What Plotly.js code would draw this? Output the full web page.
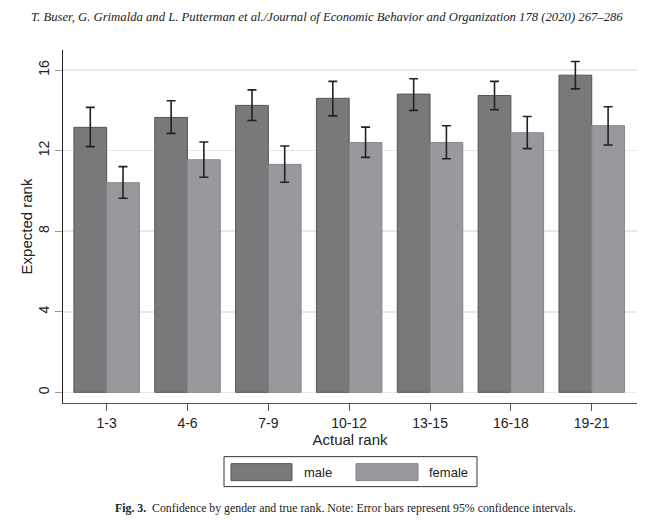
<!DOCTYPE html>
<html>
<head>
<meta charset="utf-8">
<script src="https://cdn.plot.ly/plotly-3.0.1.min.js"></script>
<style>
html,body{margin:0;padding:0;background:#fff;}
#chart{width:658px;height:531px;}
</style>
</head>
<body>
<div id="chart"></div>
<script>
// ---- data ----
const categories = ["1-3", "4-6", "7-9", "10-12", "13-15", "16-18", "19-21"];
const maleMean  = [13.16, 13.65, 14.25, 14.60, 14.81, 14.74, 15.75];
const maleHigh  = [14.15, 14.48, 15.02, 15.44, 15.57, 15.44, 16.43];
const maleLow   = [12.20, 12.86, 13.50, 13.73, 14.00, 14.03, 15.07];
const femaleMean = [10.41, 11.55, 11.32, 12.40, 12.41, 12.89, 13.24];
const femaleHigh = [11.21, 12.43, 12.23, 13.17, 13.24, 13.70, 14.18];
const femaleLow  = [9.64, 10.68, 10.43, 11.67, 11.60, 12.10, 12.28];
const yTicks = [0, 4, 8, 12, 16];
const seriesNames = ["male", "female"];

const maleColor = "#79797b", maleLine = "#555557";
const femaleColor = "#98999d", femaleLine = "#858689";

function errs(mean, hi, lo) {
  return {
    type: "data", symmetric: false,
    array: hi.map((h, i) => h - mean[i]),
    arrayminus: mean.map((m, i) => m - lo[i]),
    color: "#222", thickness: 1.6, width: 4.5
  };
}

const traces = [
  {type: "bar", name: seriesNames[0], x: categories, y: maleMean,
   marker: {color: maleColor, line: {color: maleLine, width: 1}},
   error_y: errs(maleMean, maleHigh, maleLow)},
  {type: "bar", name: seriesNames[1], x: categories, y: femaleMean,
   marker: {color: femaleColor, line: {color: femaleLine, width: 1}},
   error_y: errs(femaleMean, femaleHigh, femaleLow)}
];

// plot area in pixels
const L = 63, R = 637, T = 50, B = 403.3, W = 658, H = 531;
const px = x => (x - L) / (R - L);
const py = y => (B - y) / (B - T);

const shapes = [
  {type: "rect", xref: "paper", yref: "paper", x0: px(224), x1: px(477), y0: py(487), y1: py(457),
   line: {color: "#333", width: 1}, fillcolor: "#fff"},
  {type: "rect", xref: "paper", yref: "paper", x0: px(231), x1: px(292), y0: py(481), y1: py(464),
   line: {color: maleLine, width: 1}, fillcolor: maleColor},
  {type: "rect", xref: "paper", yref: "paper", x0: px(356), x1: px(418), y0: py(481), y1: py(464),
   line: {color: femaleLine, width: 1}, fillcolor: femaleColor}
];

const annotations = [
  {xref: "paper", yref: "paper", x: px(302), y: py(472.5), xanchor: "left", yanchor: "middle",
   text: seriesNames[0], showarrow: false, font: {family: "Liberation Sans, Arial, sans-serif", size: 13, color: "#222"}},
  {xref: "paper", yref: "paper", x: px(427), y: py(472.5), xanchor: "left", yanchor: "middle",
   text: seriesNames[1], showarrow: false, font: {family: "Liberation Sans, Arial, sans-serif", size: 13, color: "#222"}},
  {xref: "paper", yref: "paper", x: px(327), y: py(17), xanchor: "center", yanchor: "middle",
   text: "<i>T. Buser, G. Grimalda and L. Putterman et al./Journal of Economic Behavior and Organization 178 (2020) 267–286</i>",
   showarrow: false, font: {family: "Liberation Serif, Times New Roman, serif", size: 12.7, color: "#222"}},
  {xref: "paper", yref: "paper", x: px(345), y: py(508), xanchor: "center", yanchor: "middle",
   text: "<b>Fig. 3.</b>  Confidence by gender and true rank. Note: Error bars represent 95% confidence intervals.",
   showarrow: false, font: {family: "Liberation Serif, Times New Roman, serif", size: 11.8, color: "#222"}}
];

const layout = {
  width: W, height: H,
  margin: {l: L, r: W - R, t: T, b: H - B, pad: 0},
  paper_bgcolor: "#fff", plot_bgcolor: "#fff",
  showlegend: false,
  barmode: "group", bargap: 0.19, bargroupgap: 0,
  font: {family: "Liberation Sans, Arial, sans-serif", color: "#222"},
  xaxis: {
    type: "category", range: [-0.54, 6.56],
    showline: true, linecolor: "#555", linewidth: 1.2,
    ticks: "outside", ticklen: 7, tickcolor: "#555", tickwidth: 1,
    tickfont: {size: 14, color: "#222"},
    showgrid: false, zeroline: false,
    title: {text: "Actual rank", font: {size: 15, color: "#222"}, standoff: 4}
  },
  yaxis: {
    range: [-0.53, 17.0], tickvals: yTicks, ticktext: yTicks.map(String),
    tickangle: -90,
    showline: true, linecolor: "#222", linewidth: 1.2,
    ticks: "outside", ticklen: 7, tickcolor: "#999", tickwidth: 1,
    tickfont: {size: 14, color: "#222"},
    showgrid: true, gridcolor: "#e9e9e9", gridwidth: 1.5,
    zeroline: true, zerolinecolor: "#e9e9e9", zerolinewidth: 1.5,
    title: {text: "Expected rank", font: {size: 15, color: "#222"}, standoff: 0}
  },
  shapes: shapes,
  annotations: annotations
};

Plotly.newPlot("chart", traces, layout, {displayModeBar: false, staticPlot: true});
</script>
</body>
</html>
